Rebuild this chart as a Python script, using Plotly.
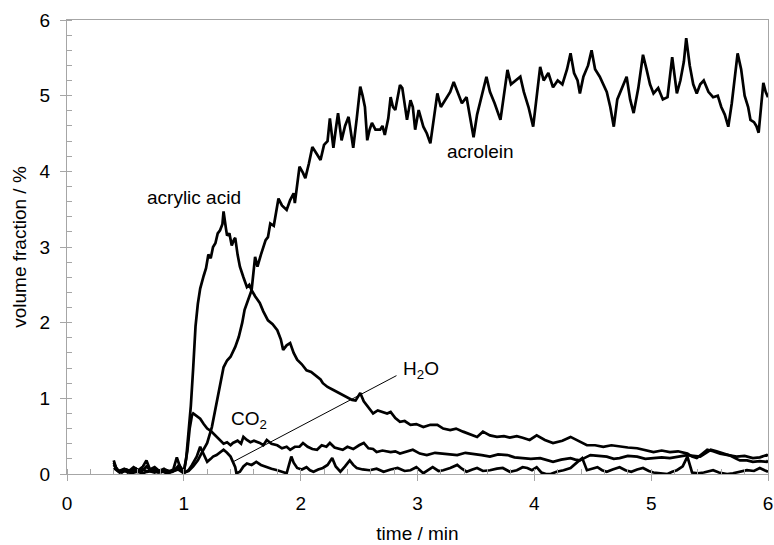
import plotly.graph_objects as go

# ---------------- data ----------------
acrolein_t = [0.40,0.43,0.47,0.51,0.55,0.59,0.63,0.68,0.72,0.76,0.80,0.85,0.90,0.95,1.00,1.04,1.08,1.12,1.16,1.20,
              1.24,1.27,1.30,1.34,1.37,1.40,1.44,1.47,1.50,1.52,1.55,1.58,1.61,1.63,1.66,1.70,1.72,1.74,1.77,1.80,
              1.81,1.84,1.88,1.91,1.94,1.95,1.99,2.02,2.04,2.07,2.10,2.13,2.17,2.20,2.23,2.25,2.28,2.30,2.32,2.35,
              2.38,2.41,2.43,2.45,2.48,2.51,2.53,2.55,2.57,2.59,2.61,2.64,2.68,2.70,2.72,2.75,2.77,2.79,2.81,2.85,
              2.87,2.89,2.91,2.94,2.96,2.98,3.01,3.03,3.05,3.08,3.11,3.14,3.17,3.20,3.24,3.28,3.31,3.34,3.38,3.42,
              3.45,3.48,3.51,3.55,3.59,3.62,3.66,3.71,3.74,3.77,3.80,3.84,3.88,3.91,3.95,3.99,4.02,4.05,4.08,4.12,
              4.16,4.20,4.24,4.28,4.31,4.34,4.37,4.39,4.42,4.46,4.49,4.52,4.56,4.59,4.62,4.65,4.68,4.71,4.75,4.79,
              4.82,4.85,4.89,4.93,4.96,4.99,5.02,5.06,5.10,5.14,5.18,5.22,5.25,5.28,5.30,5.33,5.36,5.39,5.42,5.45,
              5.49,5.53,5.57,5.60,5.63,5.66,5.69,5.72,5.74,5.77,5.80,5.83,5.85,5.88,5.90,5.92,5.94,5.96,5.98,6.00]
acrolein_v = [0.15,0.05,0.02,0.06,0.03,0.07,0.02,0.10,0.04,0.06,0.02,0.05,0.03,0.08,0.02,0.04,0.10,0.18,0.30,0.41,
              0.62,0.85,1.10,1.41,1.50,1.55,1.68,1.81,2.00,2.17,2.30,2.43,2.87,2.74,2.90,3.09,3.13,3.31,3.28,3.58,
              3.64,3.55,3.49,3.62,3.71,3.58,4.06,3.98,3.91,4.10,4.32,4.25,4.15,4.35,4.40,4.70,4.31,4.55,4.77,4.41,
              4.60,4.72,4.50,4.31,4.70,5.12,5.00,4.85,4.41,4.55,4.64,4.55,4.55,4.60,4.48,4.70,4.98,4.85,4.81,5.14,
              5.10,4.90,4.68,4.94,4.85,4.55,4.81,4.70,4.59,4.50,4.37,4.70,5.03,4.85,4.95,5.05,5.18,5.05,4.90,4.98,
              4.70,4.45,4.75,5.00,5.25,5.05,4.90,4.68,5.00,5.34,5.15,5.20,5.25,5.05,4.85,4.59,5.00,5.38,5.20,5.30,
              5.11,5.20,5.15,5.35,5.56,5.30,5.20,5.03,5.25,5.40,5.60,5.35,5.25,5.15,5.05,4.85,4.59,4.95,5.10,5.25,
              4.95,4.77,5.10,5.54,5.35,5.15,5.03,5.10,4.95,4.98,5.51,5.03,5.20,5.45,5.76,5.40,5.15,5.03,5.15,5.20,
              5.05,4.98,5.00,4.85,4.75,4.59,4.90,5.30,5.56,5.35,5.00,4.85,4.68,4.65,4.60,4.51,4.80,5.17,5.05,4.98]

acrylic_t = [0.40,0.42,0.45,0.49,0.53,0.57,0.61,0.65,0.68,0.71,0.75,0.79,0.83,0.87,0.91,0.94,0.97,1.00,1.02,1.04,
             1.06,1.08,1.10,1.12,1.14,1.17,1.19,1.21,1.23,1.25,1.27,1.29,1.31,1.33,1.34,1.36,1.37,1.39,1.41,1.43,
             1.44,1.46,1.48,1.51,1.54,1.56,1.58,1.61,1.65,1.68,1.72,1.76,1.80,1.83,1.85,1.88,1.91,1.94,1.97,2.01,
             2.05,2.09,2.14,2.17,2.19,2.23,2.28,2.32,2.36,2.40,2.44,2.47,2.51,2.54,2.58,2.62,2.66,2.70,2.74,2.77,
             2.81,2.85,2.89,2.94,2.99,3.05,3.11,3.17,3.22,3.28,3.33,3.39,3.45,3.51,3.56,3.62,3.68,3.74,3.79,3.85,
             3.90,3.96,4.02,4.09,4.16,4.24,4.31,4.38,4.45,4.52,4.59,4.66,4.73,4.80,4.88,4.95,5.02,5.09,5.16,5.23,
             5.31,5.35,5.39,5.44,5.48,5.53,5.59,5.66,5.73,5.80,5.87,5.93,5.99,6.00]
acrylic_v = [0.18,0.08,0.03,0.07,0.04,0.09,0.05,0.10,0.18,0.06,0.09,0.04,0.07,0.03,0.06,0.22,0.08,0.03,0.20,0.55,
             0.90,1.40,1.95,2.25,2.45,2.62,2.72,2.90,2.85,3.00,3.05,3.18,3.22,3.30,3.47,3.25,3.15,3.18,3.02,3.10,
             3.12,2.90,2.74,2.60,2.47,2.50,2.43,2.35,2.26,2.15,2.03,1.98,1.90,1.78,1.64,1.70,1.73,1.60,1.51,1.45,
             1.37,1.35,1.28,1.25,1.20,1.15,1.11,1.08,1.04,1.02,0.98,0.97,1.07,0.96,0.88,0.80,0.84,0.82,0.80,0.82,
             0.74,0.69,0.70,0.65,0.66,0.62,0.65,0.65,0.60,0.58,0.60,0.56,0.53,0.49,0.56,0.51,0.49,0.50,0.48,0.50,
             0.48,0.45,0.51,0.45,0.41,0.44,0.49,0.44,0.38,0.38,0.36,0.38,0.36,0.35,0.34,0.31,0.29,0.31,0.29,0.30,
             0.27,0.23,0.21,0.27,0.32,0.30,0.27,0.25,0.23,0.24,0.21,0.22,0.25,0.24]

co2_t = [0.40,0.44,0.48,0.52,0.56,0.60,0.64,0.69,0.74,0.78,0.83,0.88,0.92,0.96,1.00,1.03,1.05,1.07,1.08,1.11,
         1.14,1.17,1.20,1.23,1.25,1.28,1.31,1.34,1.37,1.40,1.42,1.46,1.49,1.51,1.54,1.57,1.60,1.65,1.68,1.71,
         1.75,1.80,1.84,1.88,1.91,1.95,1.99,2.02,2.06,2.10,2.14,2.18,2.22,2.25,2.29,2.33,2.36,2.40,2.45,2.50,
         2.54,2.58,2.62,2.65,2.70,2.77,2.81,2.85,2.90,2.96,3.02,3.08,3.15,3.22,3.28,3.34,3.41,3.48,3.55,3.62,
         3.69,3.77,3.83,3.90,3.97,4.05,4.10,4.16,4.23,4.31,4.35,4.39,4.44,4.48,4.55,4.62,4.68,4.73,4.80,4.88,
         4.95,5.02,5.09,5.16,5.23,5.31,5.36,5.42,5.47,5.51,5.56,5.62,5.68,5.73,5.76,5.82,5.87,5.93,5.99,6.00]
co2_v = [0.12,0.04,0.06,0.02,0.05,0.03,0.07,0.03,0.05,0.02,0.04,0.02,0.05,0.12,0.03,0.30,0.60,0.78,0.80,0.76,
         0.73,0.66,0.60,0.57,0.54,0.50,0.45,0.40,0.42,0.38,0.41,0.44,0.40,0.49,0.45,0.42,0.44,0.41,0.38,0.45,
         0.40,0.38,0.34,0.36,0.32,0.36,0.36,0.41,0.36,0.33,0.32,0.38,0.36,0.41,0.35,0.33,0.32,0.36,0.33,0.38,
         0.41,0.34,0.33,0.29,0.31,0.29,0.30,0.27,0.29,0.32,0.27,0.25,0.28,0.27,0.26,0.25,0.28,0.27,0.25,0.23,
         0.26,0.25,0.22,0.21,0.20,0.21,0.19,0.16,0.19,0.21,0.19,0.18,0.22,0.25,0.24,0.23,0.20,0.21,0.24,0.23,
         0.20,0.21,0.22,0.21,0.23,0.25,0.24,0.23,0.28,0.32,0.30,0.27,0.24,0.20,0.18,0.18,0.16,0.17,0.16,0.18]

h2o_t = [0.40,0.45,0.50,0.55,0.60,0.65,0.70,0.75,0.80,0.85,0.90,0.95,1.00,1.04,1.07,1.11,1.14,1.17,1.20,1.23,
         1.25,1.28,1.30,1.32,1.34,1.37,1.40,1.42,1.44,1.45,1.48,1.51,1.54,1.58,1.62,1.66,1.71,1.75,1.80,1.84,
         1.88,1.90,1.92,1.94,1.97,2.01,2.05,2.08,2.11,2.15,2.19,2.23,2.27,2.30,2.34,2.38,2.42,2.45,2.48,2.53,
         2.59,2.65,2.71,2.77,2.83,2.89,2.94,2.99,3.05,3.09,3.13,3.18,3.22,3.28,3.34,3.38,3.42,3.47,3.51,3.56,
         3.62,3.68,3.73,3.79,3.85,3.90,3.94,3.98,4.02,4.06,4.10,4.14,4.19,4.25,4.31,4.37,4.41,4.45,4.50,4.54,
         4.58,4.62,4.67,4.73,4.78,4.83,4.88,4.93,4.98,5.02,5.08,5.14,5.18,5.22,5.27,5.31,5.35,5.40,5.45,5.49,
         5.53,5.58,5.65,5.70,5.76,5.82,5.88,5.93,5.97,6.00]
h2o_v = [0.08,0.02,0.04,0.01,0.03,0.01,0.04,0.02,0.05,0.01,0.03,0.06,0.01,0.05,0.12,0.23,0.36,0.25,0.16,0.20,
         0.23,0.25,0.27,0.30,0.32,0.28,0.23,0.16,0.09,0.01,0.03,0.10,0.14,0.12,0.16,0.12,0.09,0.07,0.05,0.03,
         0.01,0.12,0.23,0.15,0.08,0.06,0.09,0.05,0.03,0.06,0.08,0.12,0.21,0.10,0.03,0.10,0.18,0.12,0.08,0.06,
         0.05,0.07,0.03,0.06,0.08,0.04,0.05,0.09,0.01,0.05,0.09,0.04,0.05,0.08,0.12,0.07,0.03,0.06,0.08,0.04,
         0.05,0.07,0.08,0.03,0.05,0.09,0.08,0.05,0.09,0.02,0.00,0.00,0.03,0.05,0.08,0.16,0.21,0.05,0.07,0.09,
         0.05,0.03,0.06,0.09,0.05,0.03,0.06,0.08,0.04,0.02,0.01,0.00,0.03,0.05,0.10,0.23,0.02,0.01,0.02,0.04,
         0.05,0.02,0.00,0.01,0.03,0.05,0.04,0.08,0.05,0.03]

# H2O label leader line (data coordinates)
leader_t = [1.42, 2.82]
leader_v = [0.16, 1.30]

x_ticks = [0, 1, 2, 3, 4, 5, 6]
y_ticks = [0, 1, 2, 3, 4, 5, 6]

FONT = "Liberation Sans, Arial, sans-serif"
AXIS_GRAY = "#a6a6a6"
FS = 19

fig = go.Figure()
for t, v, name in [(acrylic_t, acrylic_v, "acrylic acid"),
                   (acrolein_t, acrolein_v, "acrolein"),
                   (co2_t, co2_v, "CO2"),
                   (h2o_t, h2o_v, "H2O")]:
    fig.add_trace(go.Scatter(x=t, y=v, mode="lines", name=name,
                             line=dict(color="black", width=2.7), showlegend=False))

fig.add_trace(go.Scatter(x=leader_t, y=leader_v, mode="lines",
                         line=dict(color="black", width=1), showlegend=False))

ann_font = dict(family=FONT, size=FS, color="black")
fig.add_annotation(x=1.09, y=3.66, text="acrylic acid", showarrow=False, font=ann_font)
fig.add_annotation(x=3.54, y=4.26, text="acrolein", showarrow=False, font=ann_font)
fig.add_annotation(x=1.56, y=0.71, text="CO<sub>2</sub>", showarrow=False, font=ann_font)
fig.add_annotation(x=2.86, y=1.37, text="H<sub>2</sub>O", showarrow=False, font=ann_font, xanchor="left")

axis_common = dict(
    showgrid=False, zeroline=False, showline=True, linecolor=AXIS_GRAY, linewidth=1,
    mirror=True, ticks="outside", ticklen=6, tickcolor=AXIS_GRAY, tickwidth=1,
    tickfont=dict(family=FONT, size=FS, color="black"),
    minor=dict(ticks="inside", ticklen=5, tickcolor=AXIS_GRAY, dtick=0.2, showgrid=False),
    automargin=False, ticklabelstandoff=6,
)

fig.update_xaxes(range=[0, 6], tickvals=x_ticks, ticktext=[str(v) for v in x_ticks],
                 title=dict(text="time / min", font=dict(family=FONT, size=FS, color="black"), standoff=13),
                 **axis_common)
fig.update_yaxes(range=[0, 6], tickvals=y_ticks, ticktext=[str(v) for v in y_ticks],
                 title=dict(text="volume fraction / %", font=dict(family=FONT, size=FS, color="black"), standoff=7),
                 **axis_common)

fig.update_layout(
    width=774, height=545,
    margin=dict(l=67, r=6, t=20, b=71),
    plot_bgcolor="white", paper_bgcolor="white",
)

fig.write_html("out.html")
